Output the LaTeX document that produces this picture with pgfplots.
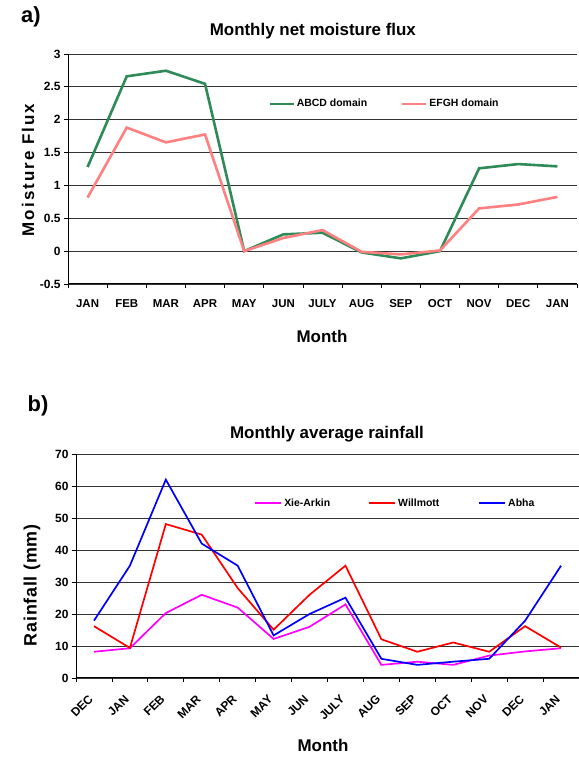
\documentclass[border=0pt]{standalone}
\usepackage{fontspec}
\setmainfont{Liberation Sans}
\newfontfamily\spacedfont[LetterSpace=12]{Liberation Sans}
\newfontfamily\spacedfontb[LetterSpace=4]{Liberation Sans}
\usepackage{pgfplots}
\pgfplotsset{compat=1.18}
\definecolor{abcd}{RGB}{46,139,87}
\definecolor{efgh}{RGB}{255,128,128}
\definecolor{xiecol}{RGB}{255,0,255}
\definecolor{willcol}{RGB}{255,0,0}
\definecolor{abhacol}{RGB}{0,0,255}
\pgfplotsset{
  common/.style={
    scale only axis,
    anchor=south west,
    axis x line=bottom,
    axis y line=left,
    axis line style={black, line width=1bp, -},
    tick align=outside,
    major tick length=4bp,
    tick style={black, line width=0.8bp},
    ymajorgrids,
    grid style={black!80, line width=0.8bp},
    x tick label as interval,
    /pgf/number format/assume math mode=true,
    xticklabel style={font=\fontsize{11.5}{13}\selectfont\bfseries},
    yticklabel style={font=\fontsize{12}{14}\selectfont\bfseries},
    label style={font=\fontsize{17}{20}\selectfont\bfseries},
    title style={font=\fontsize{17}{20}\selectfont\bfseries},
    legend style={draw=none, fill=none, inner sep=0pt,
      font=\fontsize{10.5}{12}\selectfont\bfseries},
    legend cell align=left,
    legend columns=-1,
    clip=false,
  }
}
\begin{document}
\begin{tikzpicture}[x=1bp,y=1bp]
\path[use as bounding box] (0,0) rectangle (579,758);
% ---------------- panel a ----------------
\begin{axis}[common,
  at={(68bp,474bp)}, width=509bp, height=230bp,
  xmin=-0.5, xmax=12.5, ymin=-0.5, ymax=3,
  xtick={-0.5,0.5,1.5,2.5,3.5,4.5,5.5,6.5,7.5,8.5,9.5,10.5,11.5,12.5},
  xticklabels={JAN,FEB,MAR,APR,MAY,JUN,JULY,AUG,SEP,OCT,NOV,DEC,JAN},
  xticklabel style={yshift=-8bp},
  ytick={-0.5,0,0.5,1,1.5,2,2.5,3},
  yticklabels={-0.5,0,0.5,1,1.5,2,2.5,3},
  title={Monthly net moisture flux},
  title style={at={(axis description cs:0.481,1.075)}, anchor=center},
  xlabel={Month},
  xlabel style={at={(axis description cs:0.499,-0.226)}, anchor=center},
  ylabel={{\spacedfont Moisture Flux}},
  ylabel style={at={(axis description cs:-0.0786,0.496)}, anchor=center, rotate=0},
  legend style={at={(axis description cs:0.393,0.783)}, anchor=west},
  legend image code/.code={\draw[#1] (0bp,0bp) -- (24bp,0bp);},
]
\addplot[color=abcd, line width=2.6bp] coordinates {
  (0,1.28) (1,2.66) (2,2.745) (3,2.546) (4,0) (5,0.255) (6,0.28)
  (7,-0.02) (8,-0.11) (9,0) (10,1.26) (11,1.325) (12,1.29)};
\addlegendentry{\makebox[102bp][l]{ABCD domain}}
\addplot[color=efgh, line width=2.6bp] coordinates {
  (0,0.815) (1,1.88) (2,1.655) (3,1.775) (4,0) (5,0.2) (6,0.32)
  (7,-0.01) (8,-0.05) (9,0.01) (10,0.65) (11,0.71) (12,0.825)};
\addlegendentry{EFGH domain}
\node[font=\fontsize{22}{24}\selectfont\bfseries] at (axis description cs:-0.073,1.161) {a)};
\end{axis}
% ---------------- panel b ----------------
\begin{axis}[common,
  at={(76bp,80bp)}, width=503bp, height=224bp,
  xmin=-0.5, xmax=13.5, ymin=0, ymax=70,
  xtick={-0.5,0.5,1.5,2.5,3.5,4.5,5.5,6.5,7.5,8.5,9.5,10.5,11.5,12.5,13.5},
  xticklabels={DEC,JAN,FEB,MAR,APR,MAY,JUN,JULY,AUG,SEP,OCT,NOV,DEC,JAN},
  xticklabel style={font=\fontsize{12}{14}\selectfont\bfseries, inner sep=0pt,
    xshift=-3bp, yshift=-15bp, rotate=45, anchor=east},
  ytick={0,10,20,30,40,50,60,70},
  yticklabels={0,10,20,30,40,50,60,70},
  title={Monthly average rainfall},
  title style={at={(axis description cs:0.499,1.06)}, anchor=center},
  xlabel={Month},
  xlabel style={at={(axis description cs:0.491,-0.3)}, anchor=center},
  ylabel={{\spacedfontb\fontsize{18}{20}\selectfont\bfseries Rainfall (mm)}},
  ylabel style={at={(axis description cs:-0.0875,0.414)}, anchor=center, rotate=0},
  legend style={at={(axis description cs:0.352,0.779)}, anchor=west},
  legend image code/.code={},
]
\addplot[color=xiecol, line width=1.7bp] coordinates {
  (0,8.2) (1,9.3) (2,20.3) (3,26) (4,22) (5,12.2) (6,16) (7,23)
  (8,4.1) (9,5.1) (10,4.1) (11,7) (12,8.3) (13,9.3)};
\addlegendentry{\makebox[110bp][l]{\textcolor{xiecol}{\rule[2.8bp]{26bp}{1.7bp}}\hspace{3bp}Xie-Arkin}}
\addplot[color=willcol, line width=1.7bp] coordinates {
  (0,16.2) (1,9.4) (2,48.1) (3,44.8) (4,28.1) (5,15.1) (6,26) (7,35.1)
  (8,12.1) (9,8.2) (10,11.1) (11,8.2) (12,16.2) (13,9.5)};
\addlegendentry{\makebox[106bp][l]{\textcolor{willcol}{\rule[2.8bp]{26bp}{1.7bp}}\hspace{3bp}Willmott}}
\addplot[color=abhacol, line width=1.7bp] coordinates {
  (0,17.9) (1,35.1) (2,62) (3,42) (4,35.1) (5,13.3) (6,20) (7,25.1)
  (8,6) (9,4.1) (10,5.1) (11,6) (12,17.9) (13,35.1)};
\addlegendentry{\textcolor{abhacol}{\rule[2.8bp]{26bp}{1.7bp}}\hspace{3bp}Abha}
\node[font=\fontsize{22}{24}\selectfont\bfseries] at (axis description cs:-0.0755,1.215) {b)};
\end{axis}
\end{tikzpicture}
\end{document}
